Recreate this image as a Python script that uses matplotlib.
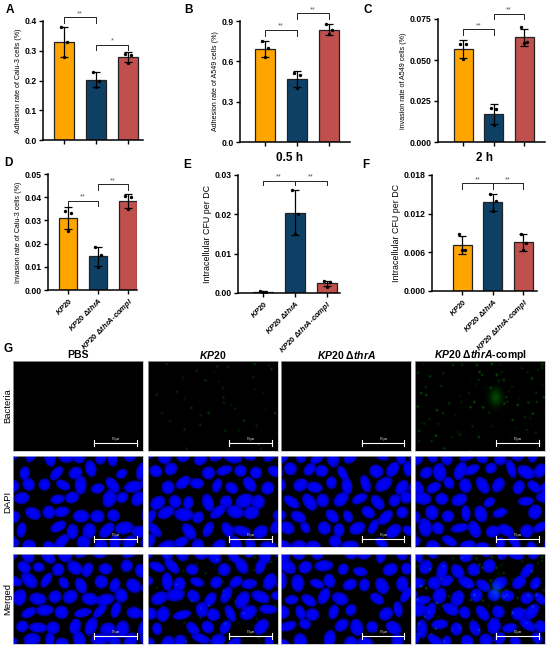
import numpy as np
import matplotlib
matplotlib.use("Agg")
import matplotlib.pyplot as plt

plt.rcParams['font.family'] = ['Liberation Sans', 'DejaVu Sans']
plt.rcParams['font.weight'] = 'bold'
plt.rcParams['mathtext.fontset'] = 'custom'
plt.rcParams['mathtext.it'] = 'Liberation Sans:italic:bold'
plt.rcParams['mathtext.rm'] = 'Liberation Sans:bold'

W, H = 550, 649

strains = ["KP20", "KP20 ΔthrA", "KP20 ΔthrA-compl"]
colors = ["#FFA500", "#0E4066", "#C0504D"]

# replicate values (three dots per bar)
a_pts = [[0.38, 0.33, 0.28], [0.23, 0.20, 0.178], [0.29, 0.285, 0.26]]
b_pts = [[0.75, 0.70, 0.63], [0.51, 0.50, 0.40], [0.88, 0.83, 0.80]]
c_pts = [[0.060, 0.0595, 0.0505], [0.0205, 0.0203, 0.0102], [0.070, 0.0607, 0.0605]]
d_pts = [[0.0340, 0.0333, 0.0256], [0.0184, 0.0151, 0.0101], [0.0404, 0.0400, 0.0349]]
e_pts = [[0.0004, 0.0003, 0.0003], [0.0263, 0.0200, 0.0150], [0.0030, 0.0027, 0.0016]]
f_pts = [[0.0088, 0.0064, 0.0063], [0.0150, 0.0139, 0.0124], [0.0088, 0.0075, 0.0063]]

a_ticks = [0.0, 0.1, 0.2, 0.3, 0.4]
b_ticks = [0.0, 0.3, 0.6, 0.9]
c_ticks = [0.000, 0.025, 0.050, 0.075]
d_ticks = [0.00, 0.01, 0.02, 0.03, 0.04, 0.05]
e_ticks = [0.00, 0.01, 0.02, 0.03]
f_ticks = [0.000, 0.006, 0.012, 0.018]

# significance brackets: (bar i, bar j, height, drop, label)
a_sig = [(0, 1, 0.413, 0.02, "**"), (1, 2, 0.321, 0.019, "*")]
b_sig = [(0, 1, 0.835, 0.045, "**"), (1, 2, 0.96, 0.045, "**")]
c_sig = [(0, 1, 0.0689, 0.0035, "**"), (1, 2, 0.0783, 0.0035, "**")]
d_sig = [(0, 1, 0.0385, 0.0025, "**"), (1, 2, 0.0455, 0.0025, "**")]
e_sig = [(0, 1, 0.0286, 0.0011, "**"), (1, 2, 0.0286, 0.0011, "**")]
f_sig = [(0, 1, 0.0167, 0.0008, "**"), (1, 2, 0.0167, 0.0008, "**")]

g_cols = ["PBS", "$\\mathit{KP}$20", "$\\mathit{KP}$20 Δ$\\mathit{thrA}$",
          "$\\mathit{KP}$20 Δ$\\mathit{thrA}$-compl"]
g_rows = ["Bacteria", "DAPI", "Merged"]
green_level = [0.0, 0.75, 0.06, 1.0]


def box(l, t, r, b):
    return [l / W, 1 - b / H, (r - l) / W, (b - t) / H]


fig = plt.figure(figsize=(W / 100, H / 100), dpi=100)


def bar_panel(rect, pts, ticks, xlim, ylabel, sig, letter, ylab_size=5.1,
              xlabels=False, title=None):
    ax = fig.add_axes(box(*rect))
    x = np.arange(3)
    means = [np.mean(p) for p in pts]
    sds = [np.std(p, ddof=1) for p in pts]
    ax.bar(x, means, width=0.62, color=colors, edgecolor="#222222", linewidth=0.9, zorder=2)
    ax.errorbar(x, means, yerr=sds, fmt="none", ecolor="black", elinewidth=0.9,
                capsize=3.2, capthick=0.9, zorder=3)
    offs = [-0.09, 0.09, 0.0]
    for i, p in enumerate(pts):
        ax.scatter([i + o for o in offs], p, s=6, color="black", zorder=4, linewidths=0)
    for i, j, h, d, lab in sig:
        ax.plot([i, i, j, j], [h - d, h, h, h - d], color="#222222", lw=0.7,
                clip_on=False, zorder=5)
        ax.text((i + j) / 2, h, lab, ha="center", va="bottom", fontsize=5.2,
                color="#555555", fontweight="normal")
    ax.set_xlim(*xlim)
    ax.set_ylim(ticks[0], ticks[-1])
    ax.set_yticks(ticks)
    dec = max(len(f"{t}".split('.')[-1]) for t in ticks)
    ax.set_yticklabels([f"{t:.{dec}f}" for t in ticks])
    ax.set_xticks(x)
    if xlabels:
        labs = ["$\\mathit{KP20}$", "$\\mathit{KP20\\ \\Delta thrA}$",
                "$\\mathit{KP20\\ \\Delta thrA}$-$\\mathit{compl}$"]
        ax.set_xticklabels(labs, rotation=45, ha="right", rotation_mode="anchor",
                           fontsize=5.5)
    else:
        ax.set_xticklabels([])
    for s in ["top", "right"]:
        ax.spines[s].set_visible(False)
    for s in ["left", "bottom"]:
        ax.spines[s].set_linewidth(1.1)
    ax.tick_params(axis="y", width=1.0, length=3, labelsize=6.2, pad=1.5)
    ax.tick_params(axis="x", width=1.0, length=3, pad=1.0)
    ax.set_ylabel(ylabel, fontsize=ylab_size, labelpad=2)
    fig.text(letter[1] / W, 1 - letter[2] / H, letter[0], fontsize=8.5,
             fontweight="bold", ha="left", va="top")
    if title:
        ax.set_title(title, fontsize=8.5, fontweight="bold", pad=10)
    return ax


bar_panel((43, 21, 143, 140), a_pts, a_ticks, (-0.66, 2.47),
          "Adhesion rate of Calu-3 cells (%)", a_sig, ("A", 6, 4))
bar_panel((240, 21, 350, 142), b_pts, b_ticks, (-0.78, 2.66),
          "Adhesion rate of A549 cells (%)", b_sig, ("B", 184, 4))
bar_panel((438, 19, 545, 142), c_pts, c_ticks, (-0.82, 2.68),
          "invasion rate of A549 cells (%)", c_sig, ("C", 363, 4))
bar_panel((48, 174, 137, 290), d_pts, d_ticks, (-0.67, 2.3),
          "Invasion rate of Calu-3 cells (%)", d_sig, ("D", 4, 157), xlabels=True)
bar_panel((238, 175, 340, 293), e_pts, e_ticks, (-0.79, 2.42),
          "Intracellular CFU per DC", e_sig, ("E", 183, 159), ylab_size=6.4,
          xlabels=True, title="0.5 h")
bar_panel((432, 175, 537, 291), f_pts, f_ticks, (-0.98, 2.44),
          "Intracellular CFU per DC", f_sig, ("F", 362, 159), ylab_size=6.4,
          xlabels=True, title="2 h")


# ---- panel G: microscopy tiles (drawn texture) ----
def hashv(i, j, k):
    v = np.sin(i * 12.9898 + j * 78.233 + k * 37.719) * 43758.5453
    return v - np.floor(v)


def nuclei_img(seed, h=180, w=260):
    yy, xx = np.mgrid[0:h, 0:w].astype(float)
    blue = np.zeros((h, w))
    step = 34
    for i in range(-1, w // step + 2):
        for j in range(-1, h // step + 2):
            if hashv(i, j, seed + 5) < 0.08:
                continue
            cx = i * step + (j % 2) * step / 2 + (hashv(i, j, seed) - 0.5) * 12
            cy = j * step * 0.85 + (hashv(i, j, seed + 1) - 0.5) * 12
            a = 12 + hashv(i, j, seed + 2) * 8
            b = 9 + hashv(i, j, seed + 3) * 5
            th = hashv(i, j, seed + 4) * np.pi
            dx, dy = xx - cx, yy - cy
            u = dx * np.cos(th) + dy * np.sin(th)
            v = -dx * np.sin(th) + dy * np.cos(th)
            d = np.sqrt((u / a) ** 2 + (v / b) ** 2)
            val = np.where(d < 1, 1.0 - 0.25 * d ** 2 - 0.35 * d ** 10, 0)
            blue = np.maximum(blue, val)
    return blue


def green_img(level, seed, h=180, w=260):
    yy, xx = np.mgrid[0:h, 0:w].astype(float)
    g = np.zeros((h, w))
    if level <= 0:
        return g
    step = 13
    for i in range(w // step + 1):
        for j in range(h // step + 1):
            r = hashv(i, j, seed + 9)
            if r > 0.25 * level + 0.05:
                continue
            cx = i * step + hashv(i, j, seed + 10) * step
            cy = j * step + hashv(i, j, seed + 11) * step
            g += 0.5 * level * hashv(i, j, seed + 12) * np.exp(
                -((xx - cx) ** 2 + (yy - cy) ** 2) / 4.0)
    if level >= 1:
        g += 0.28 * np.exp(-((xx - 0.62 * w) ** 2 / 150 + (yy - 0.4 * h) ** 2 / 280))
    return np.clip(g, 0, 1)


col_x = [(13, 143), (148, 278), (281, 411), (415, 545)]
row_y = [(361, 451), (456, 547), (554, 644)]

for c, (l, r) in enumerate(col_x):
    fig.text((l + r) / 2 / W, 1 - 355 / H, g_cols[c], fontsize=7.5, fontweight="bold",
             ha="center", va="center")
    nuc_a = nuclei_img(3 * c + 1)
    nuc_b = nuclei_img(3 * c + 2)
    gr = green_img(green_level[c], c)
    for rr, (t, b) in enumerate(row_y):
        ax = fig.add_axes(box(l, t, r, b))
        img = np.zeros((180, 260, 3))
        if rr == 0:
            img[..., 1] = gr
        elif rr == 1:
            img[..., 2] = nuc_a
        else:
            img[..., 2] = nuc_b
            img[..., 1] = gr * 0.8
        ax.imshow(np.clip(img, 0, 1), aspect="auto", interpolation="bilinear")
        ax.set_xticks([])
        ax.set_yticks([])
        for s in ax.spines.values():
            s.set_color("#bbbbbb")
            s.set_linewidth(0.5)
        # scale bar
        ax.plot([0.62, 0.95], [0.09, 0.09], color="white", lw=0.8, transform=ax.transAxes)
        for xe in (0.62, 0.95):
            ax.plot([xe, xe], [0.06, 0.12], color="white", lw=0.8, transform=ax.transAxes)
        ax.text(0.785, 0.11, "50 μm", color="white", fontsize=1.8, ha="center",
                va="bottom", transform=ax.transAxes, fontweight="normal")

for rr, (t, b) in enumerate(row_y):
    fig.text(8 / W, 1 - (t + b) / 2 / H, g_rows[rr], fontsize=6.8, fontweight="normal",
             rotation=90, ha="center", va="center")

fig.text(4 / W, 1 - 343 / H, "G", fontsize=8.5, fontweight="bold", ha="left", va="top")

fig.savefig("out.png", dpi=100)
